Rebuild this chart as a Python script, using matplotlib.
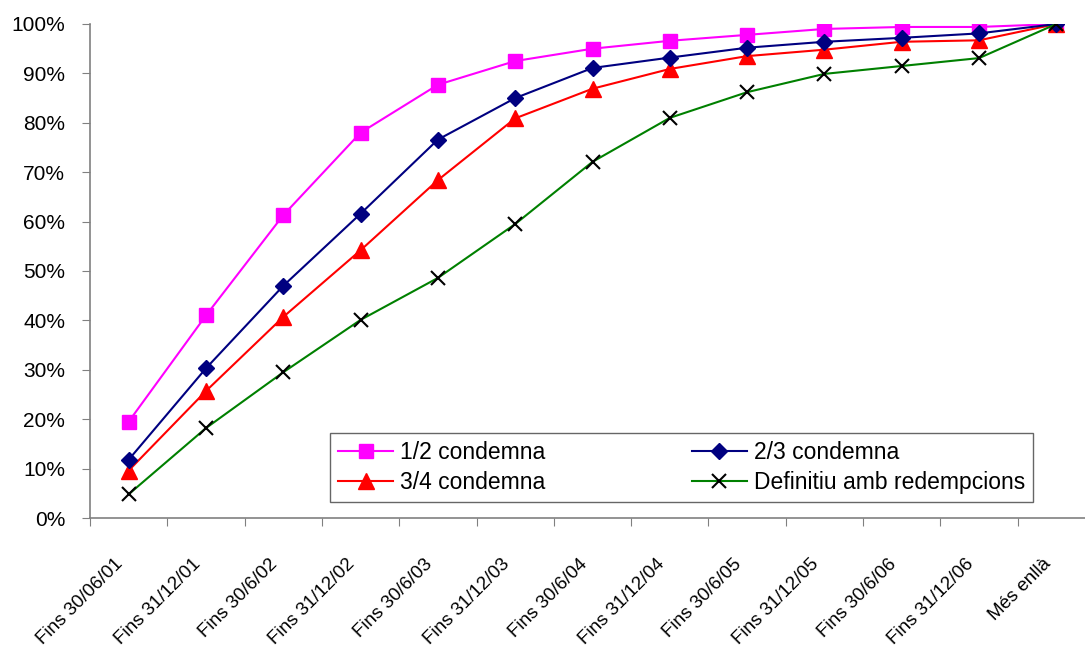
import matplotlib
matplotlib.use("Agg")
import matplotlib.pyplot as plt
import matplotlib.transforms as mtransforms
from matplotlib.ticker import PercentFormatter

plt.rcParams['font.family'] = ['Liberation Sans', 'DejaVu Sans']

categories = ['Fins 30/06/01', 'Fins 31/12/01', 'Fins 30/6/02', 'Fins 31/12/02',
              'Fins 30/6/03', 'Fins 31/12/03', 'Fins 30/6/04', 'Fins 31/12/04',
              'Fins 30/6/05', 'Fins 31/12/05', 'Fins 30/6/06', 'Fins 31/12/06',
              'Més enllà']

meitat = [19.5, 41.0, 61.3, 78.0, 87.7, 92.5, 95.0, 96.6, 97.8, 99.0, 99.4, 99.4, 100.0]
dos_terços = [11.8, 30.3, 47.0, 61.6, 76.6, 85.0, 91.1, 93.2, 95.2, 96.4, 97.2, 98.1, 100.0]
tres_quarts = [9.6, 25.7, 40.7, 54.2, 68.4, 80.9, 86.9, 90.9, 93.5, 94.8, 96.4, 96.7, 100.0]
definitiu = [4.8, 18.2, 29.5, 40.1, 48.6, 59.5, 72.1, 81.0, 86.2, 89.9, 91.5, 93.1, 100.0]

fig = plt.figure(figsize=(10.85, 6.55), dpi=100)
ax = fig.add_axes([90 / 1085, 1 - 518 / 655, 1005 / 1085, 494 / 655])

x = range(len(categories))
ax.plot(x, meitat, color='#ff00ff', marker='s', markersize=9.5, lw=1.5, label='1/2 condemna')
ax.plot(x, tres_quarts, color='#ff0000', marker='^', markersize=11, lw=1.5, label='3/4 condemna')
ax.plot(x, dos_terços, color='#000080', marker='D', markersize=8, lw=1.5, label='2/3 condemna')
ax.plot(x, definitiu, color='#008000', marker='x', markersize=10, mew=1.5, mec='black',
        lw=1.5, label='Definitiu amb redempcions')

ax.set_xlim(-0.5, len(categories) - 0.5)
ax.set_ylim(0, 100)
ax.set_yticks(range(0, 101, 10))
ax.yaxis.set_major_formatter(PercentFormatter(decimals=0))

# ticks on category boundaries, labels on category centres
ax.set_xticks([i - 0.5 for i in range(len(categories) + 1)])
ax.set_xticklabels([])
ax.set_xticks(list(x), minor=True)
ax.set_xticklabels(categories, minor=True, rotation=45, ha='right', va='top',
                   rotation_mode='anchor', fontsize=13.5)
ax.tick_params(axis='x', which='minor', length=0, pad=27)
ax.tick_params(axis='x', which='major', length=6, color='#808080', direction='out')
ax.tick_params(axis='y', length=6, color='#808080', labelsize=15, pad=12)

shift = mtransforms.ScaledTranslation(-14 / 100, 0, fig.dpi_scale_trans)
for lab in ax.get_xticklabels(minor=True):
    lab.set_transform(lab.get_transform() + shift)

for side in ['top', 'right']:
    ax.spines[side].set_visible(False)
for side in ['left', 'bottom']:
    ax.spines[side].set_color('#808080')
    ax.spines[side].set_linewidth(1.2)

leg = ax.legend(ncol=2, loc='lower left', bbox_to_anchor=(240 / 1005, 16 / 494, 703 / 1005, 70 / 494),
                mode='expand', fontsize=16.5, frameon=True, fancybox=False, edgecolor='#404040',
                handlelength=2.4, borderpad=0.35, labelspacing=0.3, columnspacing=1.0,
                handletextpad=0.3, borderaxespad=0)
leg.get_frame().set_linewidth(1.0)

fig.savefig('out.png', dpi=100)
